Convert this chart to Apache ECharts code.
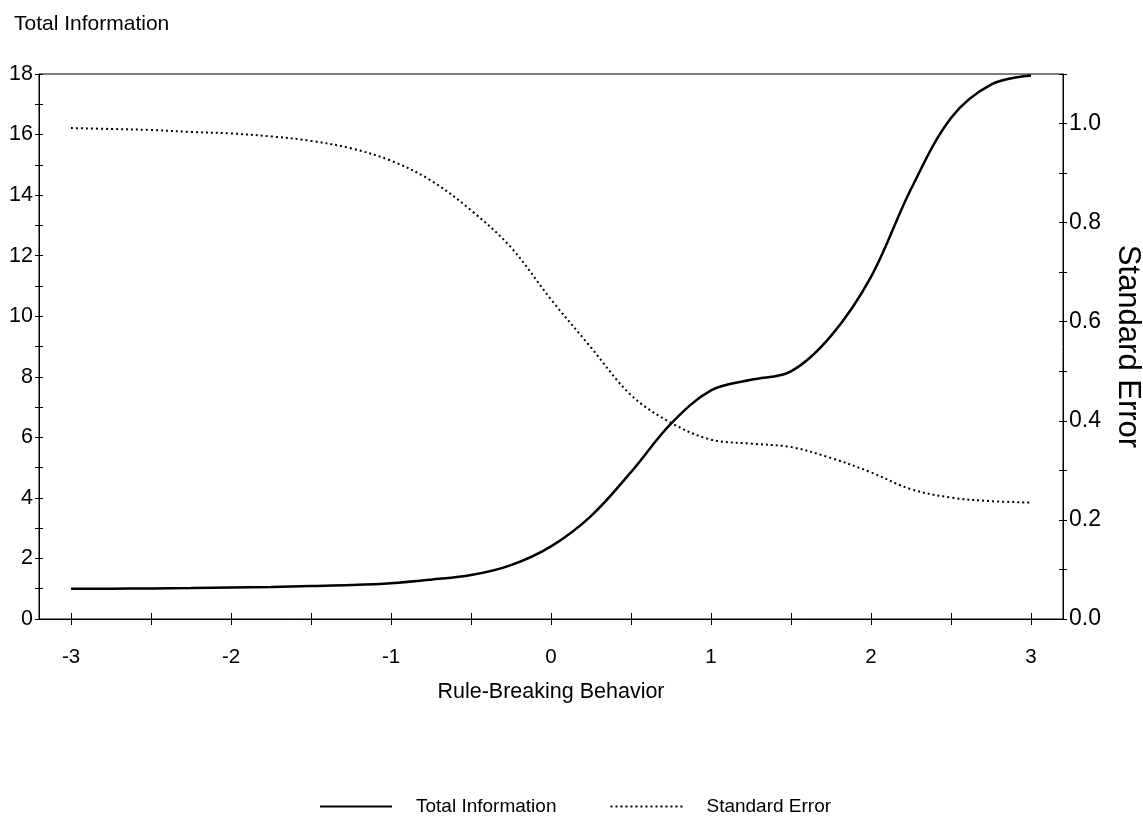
<!DOCTYPE html>
<html><head><meta charset="utf-8">
<script src="https://cdn.jsdelivr.net/npm/echarts@6/dist/echarts.min.js"></script>
<style>html,body{margin:0;padding:0;background:#fff}#c{width:1143px;height:832px}</style>
</head><body><div id="c"></div>
<script>
var theta = [-3,-2.75,-2.5,-2.25,-2,-1.75,-1.5,-1.25,-1,-0.75,-0.5,-0.25,0,0.25,0.5,0.75,1,1.25,1.5,1.75,2,2.25,2.5,2.75,3];
var totalInfo = [1.00,1.00,1.01,1.02,1.04,1.06,1.09,1.12,1.18,1.30,1.45,1.78,2.40,3.40,4.85,6.45,7.55,7.90,8.18,9.35,11.3,14.2,16.55,17.65,17.95];
var stdError = [0.991,0.989,0.987,0.983,0.980,0.974,0.965,0.950,0.925,0.885,0.825,0.750,0.645,0.548,0.452,0.396,0.362,0.354,0.347,0.325,0.296,0.262,0.245,0.238,0.235];
var xTickValues = [-3,-2.5,-2,-1.5,-1,-0.5,0,0.5,1,1.5,2,2.5,3];
var xLabelValues = [-3,-2,-1,0,1,2,3];

var FONT = '"Liberation Sans",Arial,sans-serif';
var chart = echarts.init(document.getElementById('c'));
function pairs(y){ return theta.map(function(t,i){return [t,y[i]];}); }
var xBase = {type:'value', min:-3.2, max:3.2, gridIndex:0, splitLine:{show:false}};
chart.setOption({
  animation:false,
  backgroundColor:'#fff',
  title:{text:'Total Information', left:9, top:9, textStyle:{fontFamily:FONT, fontSize:21, fontWeight:'normal', color:'#000'}},
  legend:{
    bottom:11, left:314, itemWidth:72, itemHeight:14, itemGap:53,
    data:['Total Information','Standard Error'],
    itemStyle:{opacity:0},
    textStyle:{fontFamily:FONT, fontSize:19, color:'#000', padding:[0,0,0,19]}
  },
  grid:{left:39, right:80, top:74, bottom:213, show:true, borderColor:'#000', borderWidth:1,
    backgroundColor:'transparent', outerBoundsMode:'none', containLabel:false},
  xAxis:[
    Object.assign({}, xBase, {
      position:'bottom',
      name:'Rule-Breaking Behavior', nameLocation:'middle', nameGap:62,
      nameTextStyle:{fontFamily:FONT, fontSize:21.5, color:'#000'},
      axisLine:{show:true, onZero:false, lineStyle:{color:'#000', width:1}},
      axisTick:{show:true, inside:false, length:6, customValues:xTickValues, lineStyle:{color:'#000'}},
      axisLabel:{show:true, customValues:xLabelValues, margin:28, fontFamily:FONT, fontSize:20.5, color:'#000',
        formatter:function(v){return String(Math.round(v));}}
    }),
    Object.assign({}, xBase, {
      position:'bottom',
      axisLine:{show:false, onZero:false},
      axisTick:{show:true, inside:true, length:6, customValues:xTickValues, lineStyle:{color:'#000'}},
      axisLabel:{show:false}
    })
  ],
  yAxis:[
    {type:'value', min:0, max:18, interval:1, position:'left', splitLine:{show:false},
      axisLine:{show:true, onZero:false, lineStyle:{color:'#000'}},
      axisTick:{show:true, inside:false, length:4, lineStyle:{color:'#000'}},
      axisLabel:{margin:6, fontFamily:FONT, fontSize:21.5, color:'#000',
        formatter:function(v){return (Math.round(v)%2===0)?String(Math.round(v)):'';}}},
    {type:'value', min:0, max:1.1, interval:0.1, position:'right', splitLine:{show:false},
      name:'Standard Error', nameLocation:'middle', nameGap:46, nameRotate:-90,
      nameTextStyle:{fontFamily:FONT, fontSize:31, color:'#000'},
      axisLine:{show:true, onZero:false, lineStyle:{color:'#000'}},
      axisTick:{show:true, inside:false, length:4, lineStyle:{color:'#000'}},
      axisLabel:{margin:6, fontFamily:FONT, fontSize:23, color:'#000',
        formatter:function(v){var k=Math.round(v*10); return (k%2===0)?(k/10).toFixed(1):'';}}},
    {type:'value', min:0, max:18, interval:1, position:'left', offset:0, splitLine:{show:false},
      axisLine:{show:false, onZero:false}, axisLabel:{show:false},
      axisTick:{show:true, inside:true, length:4, lineStyle:{color:'#000'}}},
    {type:'value', min:0, max:1.1, interval:0.1, position:'right', offset:0, splitLine:{show:false},
      axisLine:{show:false, onZero:false}, axisLabel:{show:false},
      axisTick:{show:true, inside:true, length:4, lineStyle:{color:'#000'}}}
  ],
  series:[
    {name:'Total Information', type:'line', xAxisIndex:0, yAxisIndex:0, data:pairs(totalInfo), smooth:0.35,
      symbol:'none', lineStyle:{color:'#000', width:2.5, type:'solid'}, itemStyle:{color:'#000'}},
    {name:'Standard Error', type:'line', xAxisIndex:0, yAxisIndex:1, data:pairs(stdError), smooth:0.35,
      symbol:'none', lineStyle:{color:'#000', width:2, type:[2,3]}, itemStyle:{color:'#000'}}
  ]
});
</script></body></html>
